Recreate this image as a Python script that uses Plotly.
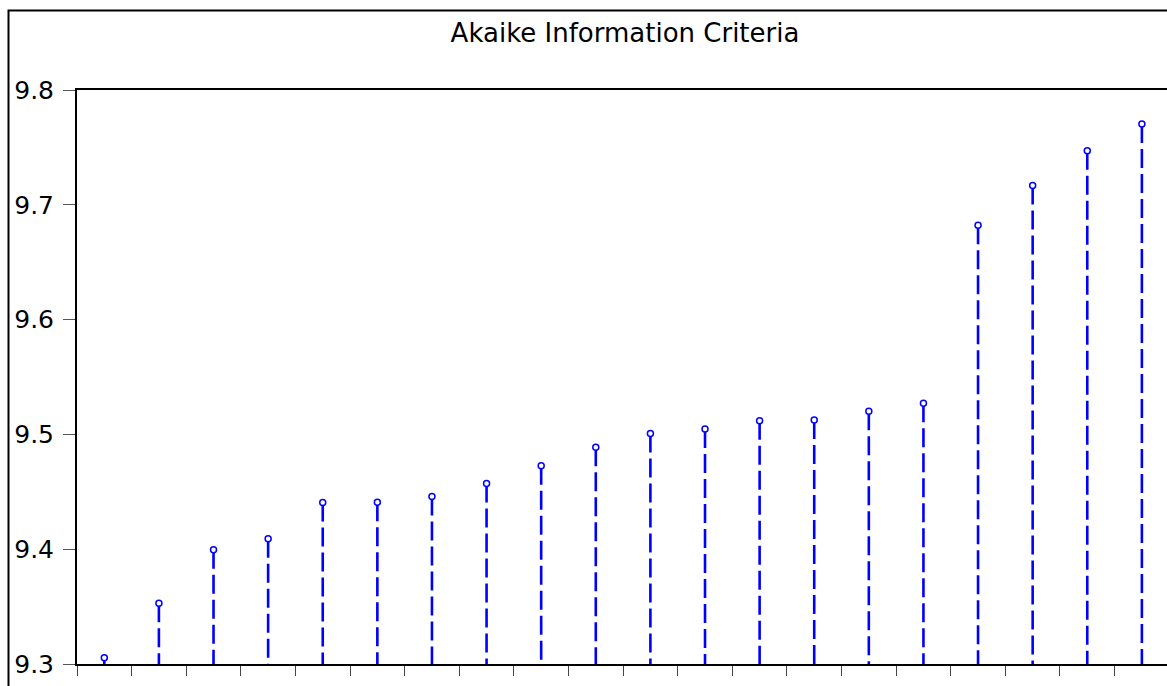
import plotly.graph_objects as go

# Akaike information criterion for each of the 20 candidate models (sorted)
models = list(range(1, 21))
aic = [9.3055, 9.353, 9.3995, 9.409, 9.4407, 9.441, 9.446, 9.4573, 9.4728, 9.4887,
       9.5007, 9.5048, 9.5118, 9.5126, 9.5202, 9.5271, 9.6822, 9.7168, 9.747, 9.7703]

y_ticks = [9.3, 9.4, 9.5, 9.6, 9.7, 9.8]
base = 9.3

BLUE = "#0000FF"

# stems: one vertical segment per model from its value down to the baseline
stem_x, stem_y = [], []
for m, v in zip(models, aic):
    stem_x += [m, m, None]
    stem_y += [v, base, None]

fig = go.Figure()
fig.add_trace(go.Scatter(
    x=stem_x, y=stem_y, mode="lines",
    line=dict(color=BLUE, width=2.6, dash="19px,6px"),
    hoverinfo="skip", showlegend=False,
))
fig.add_trace(go.Scatter(
    x=models, y=aic, mode="markers",
    marker=dict(symbol="circle", size=6, color="white",
                line=dict(color=BLUE, width=1.5)),
    showlegend=False,
))

fig.update_layout(
    width=1167, height=686,
    margin=dict(l=77, r=0, t=90, b=22),
    paper_bgcolor="white", plot_bgcolor="white",
    font=dict(family="DejaVu Sans, Arial, sans-serif", color="black"),
    title=dict(
        text="Akaike Information Criteria",
        x=625 / 1167, xanchor="center", xref="container",
        y=1 - 33 / 686, yanchor="middle", yref="container",
        font=dict(size=26, color="black"),
    ),
    xaxis=dict(
        range=[0.5, 20.46],
        tickmode="array",
        tickvals=[m - 0.5 for m in models] + [models[-1] + 0.5],
        showticklabels=False,
        ticks="outside", ticklen=10, tickwidth=1.3, tickcolor="#444444",
        showline=True, linecolor="black", linewidth=2, mirror=True,
        showgrid=False, zeroline=False,
    ),
    yaxis=dict(
        range=[9.3, 9.8],
        tickmode="array",
        tickvals=y_ticks,
        ticktext=[f"{t:.1f}" for t in y_ticks],
        ticks="outside", ticklen=12, tickwidth=1.3, tickcolor="#555555",
        ticklabelstandoff=4,
        tickfont=dict(size=25, color="black"),
        showline=True, linecolor="black", linewidth=2, mirror=False,
        showgrid=False, zeroline=False,
    ),
    shapes=[
        # outer frame around the whole graphic
        dict(type="rect", xref="paper", yref="paper",
             x0=(8.5 - 77) / 1090, x1=1.2,
             y0=-0.3, y1=1 + (90 - 10.5) / 573.5,
             line=dict(color="black", width=2), fillcolor="rgba(0,0,0,0)",
             layer="above"),
    ],
)

fig.write_html("out.html")
